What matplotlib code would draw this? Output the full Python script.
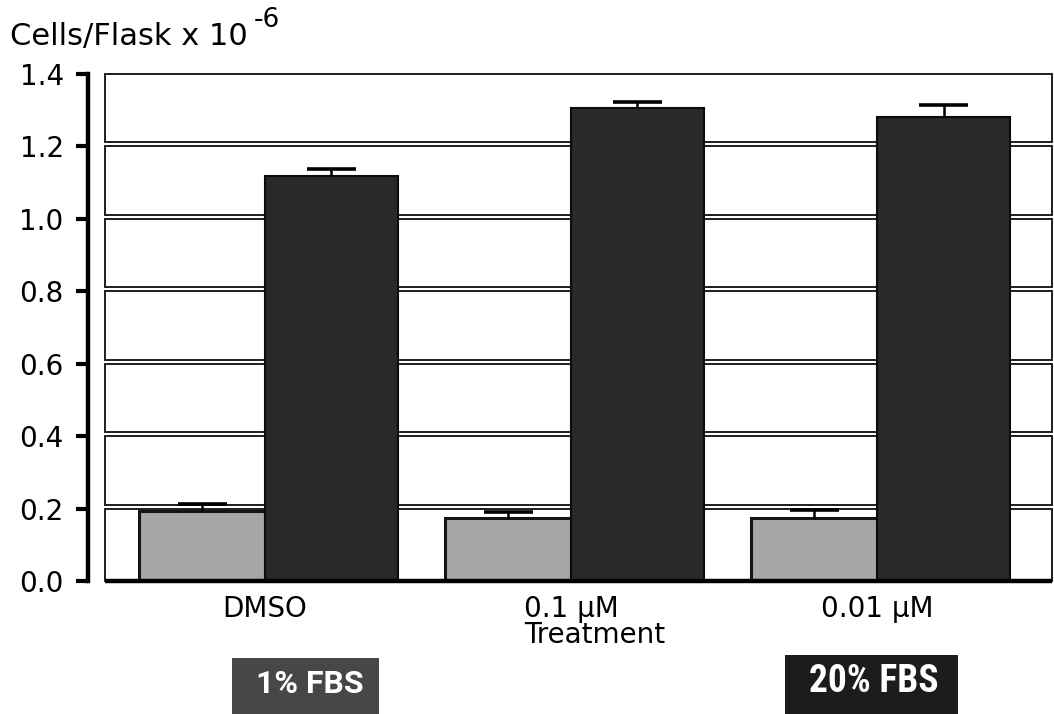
import matplotlib
matplotlib.use("Agg")
import matplotlib.pyplot as plt
from matplotlib.patches import Rectangle
from matplotlib import font_manager
import numpy as np

# ---- data ----
categories = ["DMSO", "0.1 \u03bcM", "0.01 \u03bcM"]
fbs1_values = [0.193, 0.173, 0.175]
fbs1_err = [0.020, 0.018, 0.020]
fbs20_values = [1.117, 1.305, 1.282]
fbs20_err = [0.020, 0.019, 0.033]
yticks = [0.0, 0.2, 0.4, 0.6, 0.8, 1.0, 1.2, 1.4]
ytick_labels = ["0.0", "0.2", "0.4", "0.6", "0.8", "1.0", "1.2", "1.4"]
legend_labels = ["1% FBS", "20% FBS"]

names = {f.name for f in font_manager.fontManager.ttflist}
narrow = "Roboto"
for cand in ["Liberation Sans Narrow", "Roboto Condensed", "Open Sans Condensed",
             "DejaVu Sans Condensed", "Roboto"]:
    if cand in names:
        narrow = cand
        break

W, H = 1054, 714
fig = plt.figure(figsize=(W / 100, H / 100), dpi=100)
plt.rcParams['font.family'] = ['DejaVu Sans']

ax_left, ax_right = 88, 1052
ax_bottom, ax_top = 581, 74
ax = fig.add_axes([ax_left / W, 1 - ax_bottom / H, (ax_right - ax_left) / W, (ax_bottom - ax_top) / H])
ax.set_ylim(0, 1.4)
ax.set_xlim(-0.578, 2.572)

# background banded panels
panel_left = -0.523
panel_right = 2.572
gap = 0.011
for k in range(7):
    lo = 0.2 * k + (gap if k > 0 else 0.0)
    hi = 0.2 * (k + 1)
    ax.add_patch(Rectangle((panel_left, lo), panel_right - panel_left, hi - lo,
                           facecolor="white", edgecolor="#1e1e1e", lw=1.4,
                           zorder=1, clip_on=False))
ax.plot([panel_left, panel_right], [0, 0], color="black", lw=3.2, zorder=4,
        clip_on=False, solid_capstyle="butt")

x = np.arange(len(categories))
bw1 = 0.41
bw2 = 0.435
capw = 0.16
x1 = x - bw1 / 2
x2 = x + bw2 / 2
ax.bar(x1, fbs1_values, width=bw1, color="#a6a6a6", edgecolor="#151515",
       lw=2.2, zorder=3)
ax.bar(x2, fbs20_values, width=bw2, color="#292929", edgecolor="#0c0c0c",
       lw=1.5, zorder=3)
for xs, vals, errs in [(x1, fbs1_values, fbs1_err), (x2, fbs20_values, fbs20_err)]:
    tops = np.array(vals) + np.array(errs)
    ax.vlines(xs, vals, tops, color="black", lw=1.8, zorder=5)
    ax.hlines(tops, xs - capw / 2, xs + capw / 2, color="black", lw=2.6, zorder=5)

# axes styling
for s in ["top", "right", "bottom"]:
    ax.spines[s].set_visible(False)
ax.spines["left"].set_linewidth(3.2)
ax.set_yticks(yticks)
ax.set_yticklabels(ytick_labels, fontsize=20)
ax.tick_params(axis="y", direction="out", length=8.5, width=3, pad=9)
ax.set_xticks(x)
ax.set_xticklabels(categories, fontsize=20)
ax.tick_params(axis="x", length=0, pad=10)
fig.text(595 / W, 1 - 635 / H, "Treatment", fontsize=20, ha="center", va="center")

# y label at top
fig.text(10 / W, 1 - 45 / H, "Cells/Flask x 10", fontsize=22, ha="left", va="baseline")
fig.text(254 / W, 1 - 27 / H, "-6", fontsize=19, ha="left", va="baseline")

# legend boxes at the bottom
fig.patches.append(Rectangle((232 / W, 0), (379 - 232) / W, (714 - 658) / H,
                             transform=fig.transFigure, facecolor="#474747",
                             edgecolor="none"))
fig.text(310 / W, 1 - 684 / H, legend_labels[0], fontsize=23, color="white",
         fontweight="bold", ha="center", va="center", family="Roboto")
fig.patches.append(Rectangle((785 / W, 0), (958 - 785) / W, (714 - 655) / H,
                             transform=fig.transFigure, facecolor="#1c1c1c",
                             edgecolor="none"))
fig.text(874 / W, 1 - 682 / H, legend_labels[1], fontsize=27, color="white",
         fontweight="bold", ha="center", va="center", family=narrow)

fig.savefig("out.png", dpi=100)
